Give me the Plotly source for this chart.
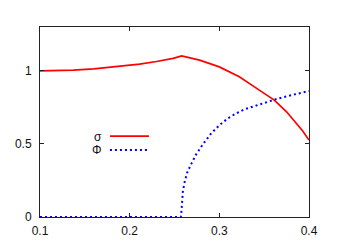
import plotly.graph_objects as go

# sigma (red, solid)
sigma_x = [0.10, 0.12, 0.137, 0.16, 0.174, 0.19, 0.211, 0.23, 0.2485, 0.258,
           0.278, 0.300, 0.3223, 0.3446, 0.3613, 0.375, 0.386, 0.393, 0.40]
sigma_y = [1.000, 1.001, 1.005, 1.013, 1.021, 1.031, 1.046, 1.064, 1.085, 1.102,
           1.073, 1.027, 0.959, 0.868, 0.800, 0.720, 0.640, 0.588, 0.526]

# Phi (blue, dotted)
phi_x = [0.10, 0.257, 0.2574, 0.2581, 0.2593, 0.2612, 0.2641, 0.2686, 0.2741,
         0.2816, 0.2909, 0.3002, 0.3095, 0.3188, 0.3281, 0.345, 0.3636, 0.38,
         0.3955, 0.40]
phi_y = [0.0, 0.0, 0.009, 0.070, 0.173, 0.237, 0.303, 0.362, 0.428,
         0.497, 0.572, 0.629, 0.675, 0.709, 0.737, 0.770, 0.807, 0.833,
         0.857, 0.862]

x_ticks = [0.1, 0.2, 0.3, 0.4]
x_ticklabels = ["0.1", "0.2", "0.3", "0.4"]
y_ticks = [0, 0.5, 1]
y_ticklabels = ["0", "0.5", "1"]

legend_names = ["σ", "Φ"]

RED = "#ff0000"
BLUE = "#0000ff"
FONT = "Liberation Sans, Arial, sans-serif"

fig = go.Figure()
fig.add_trace(go.Scatter(x=sigma_x, y=sigma_y, mode="lines", name=legend_names[0],
                         line=dict(color=RED, width=1.7), showlegend=False))
fig.add_trace(go.Scatter(x=phi_x, y=phi_y, mode="lines", name=legend_names[1],
                         line=dict(color=BLUE, width=2, dash="2px,3px"),
                         showlegend=False, cliponaxis=False))

axis_common = dict(showgrid=False, zeroline=False, showline=True, mirror="ticks",
                   linecolor="#222222", linewidth=1, ticks="inside", ticklen=4,
                   tickcolor="#222222", tickwidth=1, automargin=False,
                   tickfont=dict(family=FONT, size=12, color="#111111"))

fig.update_xaxes(range=[0.1, 0.4], tickvals=x_ticks, ticktext=x_ticklabels,
                 ticklabelstandoff=3, **axis_common)
fig.update_yaxes(range=[0, 1.3], tickvals=y_ticks, ticktext=y_ticklabels,
                 ticklabelstandoff=5, **axis_common)

# gnuplot-style key: text, then line sample
key_y = [0.426, 0.353]
styles = [dict(color=RED, width=1.7), dict(color=BLUE, width=2, dash="2px,3px")]
for name, ky, st in zip(legend_names, key_y, styles):
    fig.add_annotation(x=0.236, y=ky, xref="paper", yref="paper", text=name,
                       showarrow=False, xanchor="right", yanchor="middle",
                       height=13, borderpad=0,
                       font=dict(family=FONT, size=12, color="#111111"))
    fig.add_shape(type="line", xref="paper", yref="paper", x0=0.26, x1=0.405,
                  y0=ky, y1=ky, line=st)

# page body adds ~8px offset; compensate in margins
fig.update_layout(width=350, height=245, margin=dict(l=32, r=49, t=19, b=36),
                  paper_bgcolor="white", plot_bgcolor="white", showlegend=False)

fig.write_html("out.html")
